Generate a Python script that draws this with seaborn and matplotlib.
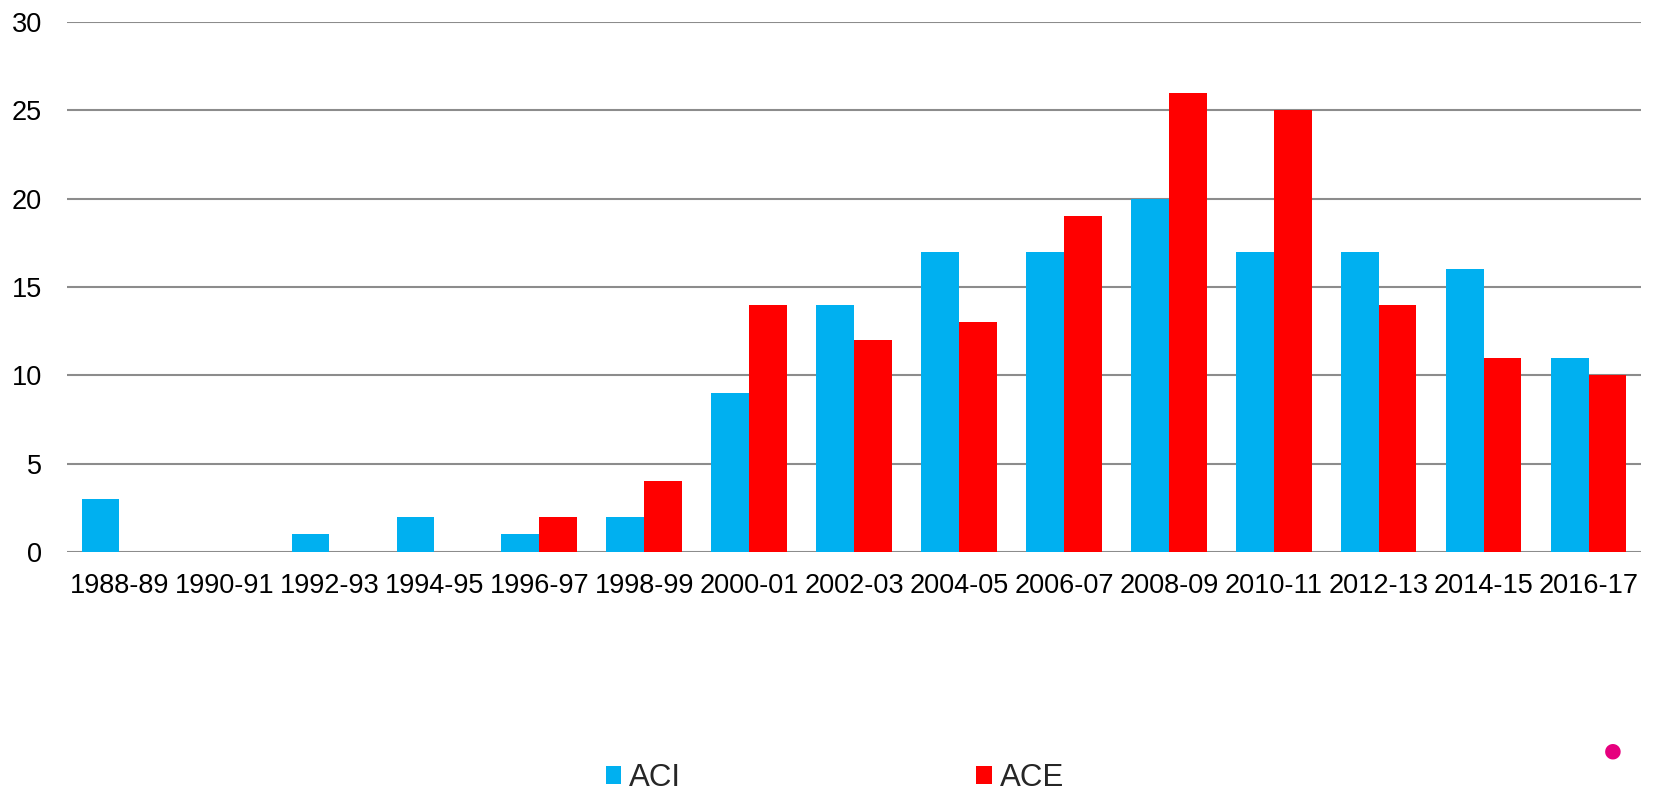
# grouped bar chart: ACI vs ACE per two-year period

import pandas as pd
import matplotlib.pyplot as plt
import seaborn as sns

# data
periods = ['1988-89', '1990-91', '1992-93', '1994-95', '1996-97', '1998-99', '2000-01',
           '2002-03', '2004-05', '2006-07', '2008-09', '2010-11', '2012-13', '2014-15', '2016-17']
aci = [3, 0, 1, 2, 1, 2, 9, 14, 17, 17, 20, 17, 17, 16, 11]
ace = [0, 0, 0, 0, 2, 4, 14, 12, 13, 19, 26, 25, 14, 11, 10]
series = ['ACI', 'ACE']
colors = ['#00B0F0', '#FF0000']

df = pd.DataFrame({'period': periods * 2,
                   'value': aci + ace,
                   'series': ['ACI'] * len(periods) + ['ACE'] * len(periods)})

sns.set_style('white')
plt.rcParams['font.family'] = ['Liberation Sans', 'DejaVu Sans']

fig = plt.figure(figsize=(16.63, 7.91), dpi=100)
ax = fig.add_axes([0.0403, 0.302, 0.9465, 0.670])

sns.barplot(data=df, x='period', y='value', hue='series', hue_order=series,
            palette=colors, width=0.72, saturation=1, linewidth=0, ax=ax, legend=True)

ax.set_xlim(-0.5, len(periods) - 0.5)
ax.set_ylim(0, 30)
ax.set_yticks(range(0, 31, 5))
ax.yaxis.grid(True, color='#8c8c8c', linewidth=1.5)
ax.set_axisbelow(True)
for s in ax.spines.values():
    s.set_visible(False)
ax.tick_params(axis='both', length=0, labelsize=19.5, colors='black')
ax.tick_params(axis='x', pad=15)
ax.tick_params(axis='y', pad=18)
ax.set_xlabel('')
ax.set_ylabel('')

handles, labels = ax.get_legend_handles_labels()
ax.legend_.remove()
fig.legend(handles, labels, loc='center', bbox_to_anchor=(0.502, 0.016), ncol=2,
           frameon=False, fontsize=22.5, handlelength=0.5, handleheight=0.5,
           handletextpad=0.25, columnspacing=9.45)

# pink dot of the logo fragment in the bottom-right corner
fig.text(0.970, 0.049, '\u25cf', color='#E6007E', fontsize=26, ha='center', va='center')

fig.savefig('out.png', dpi=100)
